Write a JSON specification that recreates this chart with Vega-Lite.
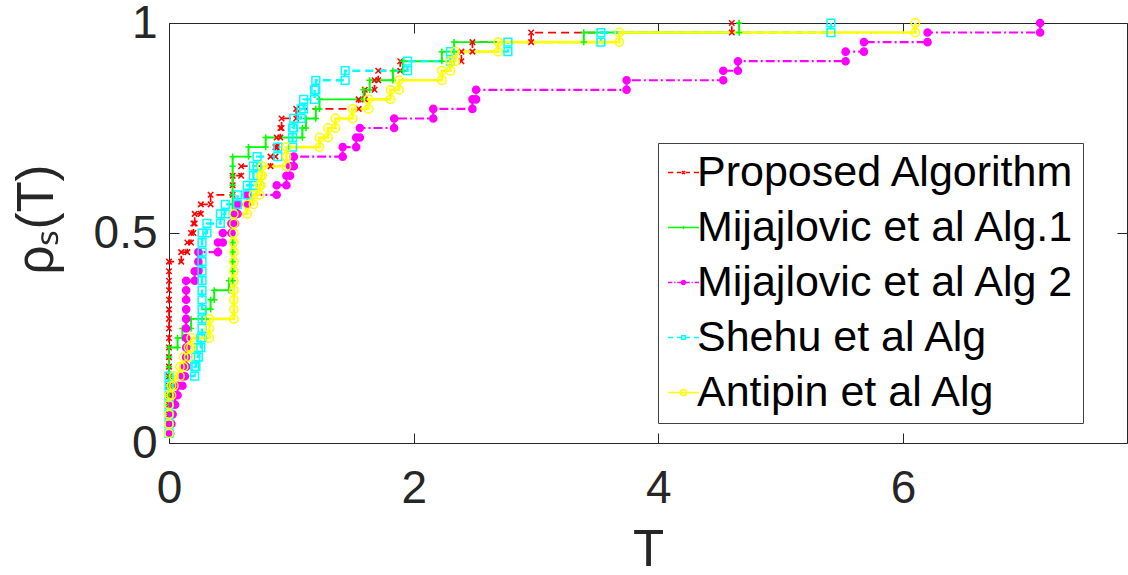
{
"$schema":"https://vega.github.io/schema/vega-lite/v6.json",
"width":958,"height":420,
"autosize":{"type":"none"},
"padding":{"left":169,"top":23,"right":1,"bottom":132},
"background":"white",
"config":{
 "view":{"stroke":"#262626","strokeWidth":1},
 "font":"Liberation Sans",
 "axis":{"grid":false,"domain":false,"tickColor":"#262626","tickWidth":1,"labelColor":"#262626","labelFont":"Liberation Sans","labelFontSize":46,"titleFont":"Liberation Sans","titleFontSize":51,"titleColor":"#262626","titleFontWeight":"normal","labelFlush":false,"labelOverlap":false,"format":"~g"}
},
"data":{"values":[
{"s":"Proposed Algorithm","t":0,"p":0.0227},{"s":"Proposed Algorithm","t":0,"p":0.0455},{"s":"Proposed Algorithm","t":0,"p":0.0682},{"s":"Proposed Algorithm","t":0,"p":0.0909},{"s":"Proposed Algorithm","t":0,"p":0.1136},{"s":"Proposed Algorithm","t":0,"p":0.1364},{"s":"Proposed Algorithm","t":0,"p":0.1591},{"s":"Proposed Algorithm","t":0,"p":0.1818},{"s":"Proposed Algorithm","t":0,"p":0.2045},{"s":"Proposed Algorithm","t":0,"p":0.2273},{"s":"Proposed Algorithm","t":0,"p":0.25},{"s":"Proposed Algorithm","t":0,"p":0.2727},{"s":"Proposed Algorithm","t":0,"p":0.2955},{"s":"Proposed Algorithm","t":0,"p":0.3182},{"s":"Proposed Algorithm","t":0,"p":0.3409},{"s":"Proposed Algorithm","t":0,"p":0.3636},{"s":"Proposed Algorithm","t":0,"p":0.3864},{"s":"Proposed Algorithm","t":0,"p":0.4091},{"s":"Proposed Algorithm","t":0,"p":0.4318},
{"s":"Proposed Algorithm","t":0.10,"p":0.4318},{"s":"Proposed Algorithm","t":0.10,"p":0.4545},
{"s":"Proposed Algorithm","t":0.15,"p":0.4545},{"s":"Proposed Algorithm","t":0.15,"p":0.4773},
{"s":"Proposed Algorithm","t":0.18,"p":0.4773},{"s":"Proposed Algorithm","t":0.18,"p":0.5},
{"s":"Proposed Algorithm","t":0.20,"p":0.5},{"s":"Proposed Algorithm","t":0.20,"p":0.5227},
{"s":"Proposed Algorithm","t":0.21,"p":0.5227},{"s":"Proposed Algorithm","t":0.21,"p":0.5455},
{"s":"Proposed Algorithm","t":0.26,"p":0.5455},{"s":"Proposed Algorithm","t":0.26,"p":0.5682},
{"s":"Proposed Algorithm","t":0.34,"p":0.5682},{"s":"Proposed Algorithm","t":0.34,"p":0.5909},
{"s":"Proposed Algorithm","t":0.52,"p":0.5909},{"s":"Proposed Algorithm","t":0.52,"p":0.6136},{"s":"Proposed Algorithm","t":0.52,"p":0.6364},
{"s":"Proposed Algorithm","t":0.59,"p":0.6364},{"s":"Proposed Algorithm","t":0.59,"p":0.6591},
{"s":"Proposed Algorithm","t":0.83,"p":0.6591},{"s":"Proposed Algorithm","t":0.83,"p":0.6818},
{"s":"Proposed Algorithm","t":0.87,"p":0.6818},{"s":"Proposed Algorithm","t":0.87,"p":0.7045},
{"s":"Proposed Algorithm","t":0.88,"p":0.7045},{"s":"Proposed Algorithm","t":0.88,"p":0.7273},
{"s":"Proposed Algorithm","t":0.91,"p":0.7273},{"s":"Proposed Algorithm","t":0.91,"p":0.75},
{"s":"Proposed Algorithm","t":0.92,"p":0.75},{"s":"Proposed Algorithm","t":0.92,"p":0.7727},
{"s":"Proposed Algorithm","t":1.04,"p":0.7727},{"s":"Proposed Algorithm","t":1.04,"p":0.7955},
{"s":"Proposed Algorithm","t":1.55,"p":0.7955},{"s":"Proposed Algorithm","t":1.55,"p":0.8182},
{"s":"Proposed Algorithm","t":1.60,"p":0.8182},{"s":"Proposed Algorithm","t":1.60,"p":0.8409},
{"s":"Proposed Algorithm","t":1.68,"p":0.8409},{"s":"Proposed Algorithm","t":1.68,"p":0.8636},
{"s":"Proposed Algorithm","t":1.71,"p":0.8636},{"s":"Proposed Algorithm","t":1.71,"p":0.8864},
{"s":"Proposed Algorithm","t":1.89,"p":0.8864},{"s":"Proposed Algorithm","t":1.89,"p":0.9091},
{"s":"Proposed Algorithm","t":2.39,"p":0.9091},{"s":"Proposed Algorithm","t":2.39,"p":0.9318},
{"s":"Proposed Algorithm","t":2.48,"p":0.9318},{"s":"Proposed Algorithm","t":2.48,"p":0.9545},
{"s":"Proposed Algorithm","t":2.96,"p":0.9545},{"s":"Proposed Algorithm","t":2.96,"p":0.9773},
{"s":"Proposed Algorithm","t":4.60,"p":0.9773},{"s":"Proposed Algorithm","t":4.60,"p":1},

{"s":"Mijajlovic et al Alg.1","t":0,"p":0.0227},{"s":"Mijajlovic et al Alg.1","t":0,"p":0.0455},{"s":"Mijajlovic et al Alg.1","t":0,"p":0.0682},{"s":"Mijajlovic et al Alg.1","t":0,"p":0.0909},{"s":"Mijajlovic et al Alg.1","t":0,"p":0.1136},{"s":"Mijajlovic et al Alg.1","t":0,"p":0.1364},{"s":"Mijajlovic et al Alg.1","t":0,"p":0.1591},{"s":"Mijajlovic et al Alg.1","t":0,"p":0.1818},{"s":"Mijajlovic et al Alg.1","t":0,"p":0.2045},{"s":"Mijajlovic et al Alg.1","t":0,"p":0.2273},
{"s":"Mijajlovic et al Alg.1","t":0.07,"p":0.2273},{"s":"Mijajlovic et al Alg.1","t":0.07,"p":0.25},
{"s":"Mijajlovic et al Alg.1","t":0.11,"p":0.25},{"s":"Mijajlovic et al Alg.1","t":0.11,"p":0.2727},
{"s":"Mijajlovic et al Alg.1","t":0.18,"p":0.2727},{"s":"Mijajlovic et al Alg.1","t":0.18,"p":0.2955},
{"s":"Mijajlovic et al Alg.1","t":0.30,"p":0.2955},{"s":"Mijajlovic et al Alg.1","t":0.30,"p":0.3182},
{"s":"Mijajlovic et al Alg.1","t":0.34,"p":0.3182},{"s":"Mijajlovic et al Alg.1","t":0.34,"p":0.3409},
{"s":"Mijajlovic et al Alg.1","t":0.37,"p":0.3409},{"s":"Mijajlovic et al Alg.1","t":0.37,"p":0.3636},
{"s":"Mijajlovic et al Alg.1","t":0.49,"p":0.3636},{"s":"Mijajlovic et al Alg.1","t":0.49,"p":0.3864},
{"s":"Mijajlovic et al Alg.1","t":0.52,"p":0.3864},{"s":"Mijajlovic et al Alg.1","t":0.52,"p":0.4091},{"s":"Mijajlovic et al Alg.1","t":0.52,"p":0.4318},{"s":"Mijajlovic et al Alg.1","t":0.52,"p":0.4545},{"s":"Mijajlovic et al Alg.1","t":0.52,"p":0.4773},{"s":"Mijajlovic et al Alg.1","t":0.52,"p":0.5},{"s":"Mijajlovic et al Alg.1","t":0.52,"p":0.5227},{"s":"Mijajlovic et al Alg.1","t":0.52,"p":0.5455},{"s":"Mijajlovic et al Alg.1","t":0.52,"p":0.5682},{"s":"Mijajlovic et al Alg.1","t":0.52,"p":0.5909},{"s":"Mijajlovic et al Alg.1","t":0.52,"p":0.6136},{"s":"Mijajlovic et al Alg.1","t":0.52,"p":0.6364},{"s":"Mijajlovic et al Alg.1","t":0.52,"p":0.6591},{"s":"Mijajlovic et al Alg.1","t":0.52,"p":0.6818},
{"s":"Mijajlovic et al Alg.1","t":0.65,"p":0.6818},{"s":"Mijajlovic et al Alg.1","t":0.65,"p":0.7045},
{"s":"Mijajlovic et al Alg.1","t":0.79,"p":0.7045},{"s":"Mijajlovic et al Alg.1","t":0.79,"p":0.7273},
{"s":"Mijajlovic et al Alg.1","t":1.09,"p":0.7273},{"s":"Mijajlovic et al Alg.1","t":1.09,"p":0.75},
{"s":"Mijajlovic et al Alg.1","t":1.12,"p":0.75},{"s":"Mijajlovic et al Alg.1","t":1.12,"p":0.7727},
{"s":"Mijajlovic et al Alg.1","t":1.20,"p":0.7727},{"s":"Mijajlovic et al Alg.1","t":1.20,"p":0.7955},
{"s":"Mijajlovic et al Alg.1","t":1.23,"p":0.7955},{"s":"Mijajlovic et al Alg.1","t":1.23,"p":0.8182},
{"s":"Mijajlovic et al Alg.1","t":1.59,"p":0.8182},{"s":"Mijajlovic et al Alg.1","t":1.59,"p":0.8409},
{"s":"Mijajlovic et al Alg.1","t":1.64,"p":0.8409},{"s":"Mijajlovic et al Alg.1","t":1.64,"p":0.8636},
{"s":"Mijajlovic et al Alg.1","t":1.83,"p":0.8636},{"s":"Mijajlovic et al Alg.1","t":1.83,"p":0.8864},
{"s":"Mijajlovic et al Alg.1","t":1.91,"p":0.8864},{"s":"Mijajlovic et al Alg.1","t":1.91,"p":0.9091},
{"s":"Mijajlovic et al Alg.1","t":2.23,"p":0.9091},{"s":"Mijajlovic et al Alg.1","t":2.23,"p":0.9318},
{"s":"Mijajlovic et al Alg.1","t":2.33,"p":0.9318},{"s":"Mijajlovic et al Alg.1","t":2.33,"p":0.9545},
{"s":"Mijajlovic et al Alg.1","t":3.39,"p":0.9545},{"s":"Mijajlovic et al Alg.1","t":3.39,"p":0.9773},
{"s":"Mijajlovic et al Alg.1","t":4.66,"p":0.9773},{"s":"Mijajlovic et al Alg.1","t":4.66,"p":1},

{"s":"Mijajlovic et al Alg 2","t":0,"p":0.0227},
{"s":"Mijajlovic et al Alg 2","t":0.01,"p":0.0227},{"s":"Mijajlovic et al Alg 2","t":0.01,"p":0.0455},
{"s":"Mijajlovic et al Alg 2","t":0.02,"p":0.0455},{"s":"Mijajlovic et al Alg 2","t":0.02,"p":0.0682},
{"s":"Mijajlovic et al Alg 2","t":0.03,"p":0.0682},{"s":"Mijajlovic et al Alg 2","t":0.03,"p":0.0909},
{"s":"Mijajlovic et al Alg 2","t":0.05,"p":0.0909},{"s":"Mijajlovic et al Alg 2","t":0.05,"p":0.1136},
{"s":"Mijajlovic et al Alg 2","t":0.07,"p":0.1136},{"s":"Mijajlovic et al Alg 2","t":0.07,"p":0.1364},
{"s":"Mijajlovic et al Alg 2","t":0.11,"p":0.1364},{"s":"Mijajlovic et al Alg 2","t":0.11,"p":0.1591},
{"s":"Mijajlovic et al Alg 2","t":0.13,"p":0.1591},{"s":"Mijajlovic et al Alg 2","t":0.13,"p":0.1818},
{"s":"Mijajlovic et al Alg 2","t":0.14,"p":0.1818},{"s":"Mijajlovic et al Alg 2","t":0.14,"p":0.2045},{"s":"Mijajlovic et al Alg 2","t":0.14,"p":0.2273},{"s":"Mijajlovic et al Alg 2","t":0.14,"p":0.25},{"s":"Mijajlovic et al Alg 2","t":0.14,"p":0.2727},{"s":"Mijajlovic et al Alg 2","t":0.14,"p":0.2955},{"s":"Mijajlovic et al Alg 2","t":0.14,"p":0.3182},{"s":"Mijajlovic et al Alg 2","t":0.14,"p":0.3409},{"s":"Mijajlovic et al Alg 2","t":0.14,"p":0.3636},{"s":"Mijajlovic et al Alg 2","t":0.14,"p":0.3864},
{"s":"Mijajlovic et al Alg 2","t":0.21,"p":0.3864},{"s":"Mijajlovic et al Alg 2","t":0.21,"p":0.4091},
{"s":"Mijajlovic et al Alg 2","t":0.24,"p":0.4091},{"s":"Mijajlovic et al Alg 2","t":0.24,"p":0.4318},{"s":"Mijajlovic et al Alg 2","t":0.24,"p":0.4545},
{"s":"Mijajlovic et al Alg 2","t":0.40,"p":0.4545},{"s":"Mijajlovic et al Alg 2","t":0.40,"p":0.4773},
{"s":"Mijajlovic et al Alg 2","t":0.44,"p":0.4773},{"s":"Mijajlovic et al Alg 2","t":0.44,"p":0.5},
{"s":"Mijajlovic et al Alg 2","t":0.51,"p":0.5},{"s":"Mijajlovic et al Alg 2","t":0.51,"p":0.5227},
{"s":"Mijajlovic et al Alg 2","t":0.54,"p":0.5227},{"s":"Mijajlovic et al Alg 2","t":0.54,"p":0.5455},
{"s":"Mijajlovic et al Alg 2","t":0.56,"p":0.5455},{"s":"Mijajlovic et al Alg 2","t":0.56,"p":0.5682},
{"s":"Mijajlovic et al Alg 2","t":0.64,"p":0.5682},{"s":"Mijajlovic et al Alg 2","t":0.64,"p":0.5909},
{"s":"Mijajlovic et al Alg 2","t":0.88,"p":0.5909},{"s":"Mijajlovic et al Alg 2","t":0.88,"p":0.6136},
{"s":"Mijajlovic et al Alg 2","t":0.96,"p":0.6136},{"s":"Mijajlovic et al Alg 2","t":0.96,"p":0.6364},
{"s":"Mijajlovic et al Alg 2","t":0.99,"p":0.6364},{"s":"Mijajlovic et al Alg 2","t":0.99,"p":0.6591},
{"s":"Mijajlovic et al Alg 2","t":1.02,"p":0.6591},{"s":"Mijajlovic et al Alg 2","t":1.02,"p":0.6818},
{"s":"Mijajlovic et al Alg 2","t":1.42,"p":0.6818},{"s":"Mijajlovic et al Alg 2","t":1.42,"p":0.7045},
{"s":"Mijajlovic et al Alg 2","t":1.53,"p":0.7045},{"s":"Mijajlovic et al Alg 2","t":1.53,"p":0.7273},
{"s":"Mijajlovic et al Alg 2","t":1.56,"p":0.7273},{"s":"Mijajlovic et al Alg 2","t":1.56,"p":0.75},
{"s":"Mijajlovic et al Alg 2","t":1.84,"p":0.75},{"s":"Mijajlovic et al Alg 2","t":1.84,"p":0.7727},
{"s":"Mijajlovic et al Alg 2","t":2.16,"p":0.7727},{"s":"Mijajlovic et al Alg 2","t":2.16,"p":0.7955},
{"s":"Mijajlovic et al Alg 2","t":2.48,"p":0.7955},{"s":"Mijajlovic et al Alg 2","t":2.48,"p":0.8182},
{"s":"Mijajlovic et al Alg 2","t":2.51,"p":0.8182},{"s":"Mijajlovic et al Alg 2","t":2.51,"p":0.8409},
{"s":"Mijajlovic et al Alg 2","t":3.74,"p":0.8409},{"s":"Mijajlovic et al Alg 2","t":3.74,"p":0.8636},
{"s":"Mijajlovic et al Alg 2","t":4.53,"p":0.8636},{"s":"Mijajlovic et al Alg 2","t":4.53,"p":0.8864},
{"s":"Mijajlovic et al Alg 2","t":4.65,"p":0.8864},{"s":"Mijajlovic et al Alg 2","t":4.65,"p":0.9091},
{"s":"Mijajlovic et al Alg 2","t":5.53,"p":0.9091},{"s":"Mijajlovic et al Alg 2","t":5.53,"p":0.9318},
{"s":"Mijajlovic et al Alg 2","t":5.68,"p":0.9318},{"s":"Mijajlovic et al Alg 2","t":5.68,"p":0.9545},
{"s":"Mijajlovic et al Alg 2","t":6.20,"p":0.9545},{"s":"Mijajlovic et al Alg 2","t":6.20,"p":0.9773},
{"s":"Mijajlovic et al Alg 2","t":7.12,"p":0.9773},{"s":"Mijajlovic et al Alg 2","t":7.12,"p":1},

{"s":"Shehu et al Alg","t":0,"p":0.0227},{"s":"Shehu et al Alg","t":0,"p":0.0455},{"s":"Shehu et al Alg","t":0,"p":0.0682},{"s":"Shehu et al Alg","t":0,"p":0.0909},{"s":"Shehu et al Alg","t":0,"p":0.1136},{"s":"Shehu et al Alg","t":0,"p":0.1364},{"s":"Shehu et al Alg","t":0,"p":0.1591},
{"s":"Shehu et al Alg","t":0.21,"p":0.1591},{"s":"Shehu et al Alg","t":0.21,"p":0.1818},
{"s":"Shehu et al Alg","t":0.22,"p":0.1818},{"s":"Shehu et al Alg","t":0.22,"p":0.2045},
{"s":"Shehu et al Alg","t":0.24,"p":0.2045},{"s":"Shehu et al Alg","t":0.24,"p":0.2273},
{"s":"Shehu et al Alg","t":0.26,"p":0.2273},{"s":"Shehu et al Alg","t":0.26,"p":0.25},
{"s":"Shehu et al Alg","t":0.27,"p":0.25},{"s":"Shehu et al Alg","t":0.27,"p":0.2727},{"s":"Shehu et al Alg","t":0.27,"p":0.2955},{"s":"Shehu et al Alg","t":0.27,"p":0.3182},{"s":"Shehu et al Alg","t":0.27,"p":0.3409},{"s":"Shehu et al Alg","t":0.27,"p":0.3636},{"s":"Shehu et al Alg","t":0.27,"p":0.3864},{"s":"Shehu et al Alg","t":0.27,"p":0.4091},{"s":"Shehu et al Alg","t":0.27,"p":0.4318},{"s":"Shehu et al Alg","t":0.27,"p":0.4545},{"s":"Shehu et al Alg","t":0.27,"p":0.4773},{"s":"Shehu et al Alg","t":0.27,"p":0.5},
{"s":"Shehu et al Alg","t":0.31,"p":0.5},{"s":"Shehu et al Alg","t":0.31,"p":0.5227},
{"s":"Shehu et al Alg","t":0.42,"p":0.5227},{"s":"Shehu et al Alg","t":0.42,"p":0.5455},
{"s":"Shehu et al Alg","t":0.46,"p":0.5455},{"s":"Shehu et al Alg","t":0.46,"p":0.5682},
{"s":"Shehu et al Alg","t":0.56,"p":0.5682},{"s":"Shehu et al Alg","t":0.56,"p":0.5909},
{"s":"Shehu et al Alg","t":0.64,"p":0.5909},{"s":"Shehu et al Alg","t":0.64,"p":0.6136},
{"s":"Shehu et al Alg","t":0.69,"p":0.6136},{"s":"Shehu et al Alg","t":0.69,"p":0.6364},{"s":"Shehu et al Alg","t":0.69,"p":0.6591},
{"s":"Shehu et al Alg","t":0.72,"p":0.6591},{"s":"Shehu et al Alg","t":0.72,"p":0.6818},
{"s":"Shehu et al Alg","t":0.89,"p":0.6818},{"s":"Shehu et al Alg","t":0.89,"p":0.7045},
{"s":"Shehu et al Alg","t":1.01,"p":0.7045},{"s":"Shehu et al Alg","t":1.01,"p":0.7273},{"s":"Shehu et al Alg","t":1.01,"p":0.75},
{"s":"Shehu et al Alg","t":1.02,"p":0.75},{"s":"Shehu et al Alg","t":1.02,"p":0.7727},
{"s":"Shehu et al Alg","t":1.08,"p":0.7727},{"s":"Shehu et al Alg","t":1.08,"p":0.7955},
{"s":"Shehu et al Alg","t":1.10,"p":0.7955},{"s":"Shehu et al Alg","t":1.10,"p":0.8182},
{"s":"Shehu et al Alg","t":1.19,"p":0.8182},{"s":"Shehu et al Alg","t":1.19,"p":0.8409},
{"s":"Shehu et al Alg","t":1.20,"p":0.8409},{"s":"Shehu et al Alg","t":1.20,"p":0.8636},
{"s":"Shehu et al Alg","t":1.44,"p":0.8636},{"s":"Shehu et al Alg","t":1.44,"p":0.8864},
{"s":"Shehu et al Alg","t":1.95,"p":0.8864},{"s":"Shehu et al Alg","t":1.95,"p":0.9091},
{"s":"Shehu et al Alg","t":2.30,"p":0.9091},{"s":"Shehu et al Alg","t":2.30,"p":0.9318},
{"s":"Shehu et al Alg","t":2.77,"p":0.9318},{"s":"Shehu et al Alg","t":2.77,"p":0.9545},
{"s":"Shehu et al Alg","t":3.53,"p":0.9545},{"s":"Shehu et al Alg","t":3.53,"p":0.9773},
{"s":"Shehu et al Alg","t":5.41,"p":0.9773},{"s":"Shehu et al Alg","t":5.41,"p":1},

{"s":"Antipin et al Alg","t":0,"p":0.0227},{"s":"Antipin et al Alg","t":0,"p":0.0455},{"s":"Antipin et al Alg","t":0,"p":0.0682},{"s":"Antipin et al Alg","t":0,"p":0.0909},{"s":"Antipin et al Alg","t":0,"p":0.1136},
{"s":"Antipin et al Alg","t":0.02,"p":0.1136},{"s":"Antipin et al Alg","t":0.02,"p":0.1364},
{"s":"Antipin et al Alg","t":0.04,"p":0.1364},{"s":"Antipin et al Alg","t":0.04,"p":0.1591},
{"s":"Antipin et al Alg","t":0.09,"p":0.1591},{"s":"Antipin et al Alg","t":0.09,"p":0.1818},
{"s":"Antipin et al Alg","t":0.12,"p":0.1818},{"s":"Antipin et al Alg","t":0.12,"p":0.2045},
{"s":"Antipin et al Alg","t":0.16,"p":0.2045},{"s":"Antipin et al Alg","t":0.16,"p":0.2273},
{"s":"Antipin et al Alg","t":0.18,"p":0.2273},{"s":"Antipin et al Alg","t":0.18,"p":0.25},
{"s":"Antipin et al Alg","t":0.33,"p":0.25},{"s":"Antipin et al Alg","t":0.33,"p":0.2727},{"s":"Antipin et al Alg","t":0.33,"p":0.2955},
{"s":"Antipin et al Alg","t":0.53,"p":0.2955},{"s":"Antipin et al Alg","t":0.53,"p":0.3182},{"s":"Antipin et al Alg","t":0.53,"p":0.3409},{"s":"Antipin et al Alg","t":0.53,"p":0.3636},{"s":"Antipin et al Alg","t":0.53,"p":0.3864},{"s":"Antipin et al Alg","t":0.53,"p":0.4091},{"s":"Antipin et al Alg","t":0.53,"p":0.4318},{"s":"Antipin et al Alg","t":0.53,"p":0.4545},{"s":"Antipin et al Alg","t":0.53,"p":0.4773},{"s":"Antipin et al Alg","t":0.53,"p":0.5},{"s":"Antipin et al Alg","t":0.53,"p":0.5227},{"s":"Antipin et al Alg","t":0.53,"p":0.5455},
{"s":"Antipin et al Alg","t":0.64,"p":0.5455},{"s":"Antipin et al Alg","t":0.64,"p":0.5682},
{"s":"Antipin et al Alg","t":0.69,"p":0.5682},{"s":"Antipin et al Alg","t":0.69,"p":0.5909},
{"s":"Antipin et al Alg","t":0.74,"p":0.5909},{"s":"Antipin et al Alg","t":0.74,"p":0.6136},
{"s":"Antipin et al Alg","t":0.75,"p":0.6136},{"s":"Antipin et al Alg","t":0.75,"p":0.6364},
{"s":"Antipin et al Alg","t":0.76,"p":0.6364},{"s":"Antipin et al Alg","t":0.76,"p":0.6591},
{"s":"Antipin et al Alg","t":0.96,"p":0.6591},{"s":"Antipin et al Alg","t":0.96,"p":0.6818},{"s":"Antipin et al Alg","t":0.96,"p":0.7045},
{"s":"Antipin et al Alg","t":1.23,"p":0.7045},{"s":"Antipin et al Alg","t":1.23,"p":0.7273},
{"s":"Antipin et al Alg","t":1.30,"p":0.7273},{"s":"Antipin et al Alg","t":1.30,"p":0.75},
{"s":"Antipin et al Alg","t":1.36,"p":0.75},{"s":"Antipin et al Alg","t":1.36,"p":0.7727},
{"s":"Antipin et al Alg","t":1.50,"p":0.7727},{"s":"Antipin et al Alg","t":1.50,"p":0.7955},
{"s":"Antipin et al Alg","t":1.63,"p":0.7955},{"s":"Antipin et al Alg","t":1.63,"p":0.8182},
{"s":"Antipin et al Alg","t":1.81,"p":0.8182},{"s":"Antipin et al Alg","t":1.81,"p":0.8409},
{"s":"Antipin et al Alg","t":1.88,"p":0.8409},{"s":"Antipin et al Alg","t":1.88,"p":0.8636},
{"s":"Antipin et al Alg","t":2.23,"p":0.8636},{"s":"Antipin et al Alg","t":2.23,"p":0.8864},
{"s":"Antipin et al Alg","t":2.30,"p":0.8864},{"s":"Antipin et al Alg","t":2.30,"p":0.9091},
{"s":"Antipin et al Alg","t":2.34,"p":0.9091},{"s":"Antipin et al Alg","t":2.34,"p":0.9318},
{"s":"Antipin et al Alg","t":2.69,"p":0.9318},{"s":"Antipin et al Alg","t":2.69,"p":0.9545},
{"s":"Antipin et al Alg","t":3.68,"p":0.9545},{"s":"Antipin et al Alg","t":3.68,"p":0.9773},
{"s":"Antipin et al Alg","t":6.10,"p":0.9773},{"s":"Antipin et al Alg","t":6.10,"p":1}
]},
"resolve":{"scale":{"color":"independent","shape":"independent","size":"independent","fill":"independent","strokeDash":"independent","strokeWidth":"independent"},"axis":{"x":"independent","y":"independent"}},
"layer":[
{"mark":{"type":"line","clip":false},
 "encoding":{
  "x":{"field":"t","type":"quantitative","scale":{"domain":[0,7.83],"nice":false,"zero":false},"axis":{"values":[0,2,4,6],"tickSize":-10,"labelPadding":33,"title":"T","titleX":479,"titleY":107,"titleAlign":"center","titleBaseline":"middle"}},
  "y":{"field":"p","type":"quantitative","scale":{"domain":[0,1],"nice":false,"zero":false},"axis":{"values":[0,0.5,1],"tickSize":-10,"labelPadding":22,"title":"ρₛ(T)","titleX":-117,"titleY":196,"titleAngle":-90,"titleAlign":"center","titleBaseline":"alphabetic"}},
  "color":{"field":"s","type":"nominal","scale":{"domain":["Proposed Algorithm","Mijajlovic et al Alg.1","Mijajlovic et al Alg 2","Shehu et al Alg","Antipin et al Alg"],"range":["#ff0000","#00ff00","#ff00ff","#00ffff","#ffff00"]},"legend":null},
  "strokeDash":{"field":"s","type":"nominal","scale":{"domain":["Proposed Algorithm","Mijajlovic et al Alg.1","Mijajlovic et al Alg 2","Shehu et al Alg","Antipin et al Alg"],"range":[[8,5],[1,0],[9,3,2,3],[8,5],[1,0]]},"legend":null},
  "strokeWidth":{"field":"s","type":"nominal","scale":{"domain":["Proposed Algorithm","Mijajlovic et al Alg.1","Mijajlovic et al Alg 2","Shehu et al Alg","Antipin et al Alg"],"range":[1.7,2.6,1.9,1.7,1.7]},"legend":null},
  "order":[{"field":"t","type":"quantitative"},{"field":"p","type":"quantitative"}]
 }},
{"mark":{"type":"point","filled":false,"strokeWidth":1.5,"opacity":1,"clip":false},
 "encoding":{
  "x":{"field":"t","type":"quantitative","scale":{"domain":[0,7.83],"nice":false,"zero":false},"axis":{"orient":"top","values":[0,2,4,6],"tickSize":-10,"labels":false,"title":null}},
  "y":{"field":"p","type":"quantitative","scale":{"domain":[0,1],"nice":false,"zero":false},"axis":{"orient":"right","values":[0,0.5,1],"tickSize":-10,"labels":false,"title":null}},
  "color":{"field":"s","type":"nominal","scale":{"domain":["Proposed Algorithm","Mijajlovic et al Alg.1","Mijajlovic et al Alg 2","Shehu et al Alg","Antipin et al Alg"],"range":["#ff0000","#00ff00","#ff00ff","#00ffff","#ffff00"]},"legend":null},
  "shape":{"field":"s","type":"nominal","scale":{"domain":["Proposed Algorithm","Mijajlovic et al Alg.1","Mijajlovic et al Alg 2","Shehu et al Alg","Antipin et al Alg"],"range":["M-1,-1L1,1M-1,1L1,-1","M-1,0H1M0,-1V1","circle","square","circle"]},"legend":null},
  "size":{"field":"s","type":"nominal","scale":{"domain":["Proposed Algorithm","Mijajlovic et al Alg.1","Mijajlovic et al Alg 2","Shehu et al Alg","Antipin et al Alg"],"range":[30,70,36,36,100]},"legend":null},
  "fill":{"field":"s","type":"nominal","scale":{"domain":["Proposed Algorithm","Mijajlovic et al Alg.1","Mijajlovic et al Alg 2","Shehu et al Alg","Antipin et al Alg"],"range":["transparent","transparent","#ff00ff","transparent","transparent"]},"legend":null}
 }},
{"mark":{"type":"point","filled":false,"opacity":0},
 "encoding":{
  "x":{"field":"t","type":"quantitative","scale":{"domain":[0,7.83],"nice":false,"zero":false},"axis":null},
  "y":{"field":"p","type":"quantitative","scale":{"domain":[0,1],"nice":false,"zero":false},"axis":null},
  "shape":{"field":"s","type":"nominal","scale":{"domain":["Proposed Algorithm","Mijajlovic et al Alg.1","Mijajlovic et al Alg 2","Shehu et al Alg","Antipin et al Alg"],"range":[
   "M-1,0H-0.66M-0.42,0H-0.14M0.14,0H0.42M0.66,0H1M-0.1,-0.1L0.1,0.1M-0.1,0.1L0.1,-0.1",
   "M-1,0H1M0,-0.12V0.12",
   "M-1,0H-0.72M-0.6,0H-0.52M-0.4,0H0.4M0.52,0H0.6M0.72,0H1M0.13,0A0.13,0.13 0 1,1 -0.13,0A0.13,0.13 0 1,1 0.13,0M0.06,0A0.06,0.06 0 1,1 -0.06,0A0.06,0.06 0 1,1 0.06,0",
   "M-1,0H-0.66M-0.42,0H-0.14M0.14,0H0.42M0.66,0H1M-0.12,-0.12H0.12V0.12H-0.12Z",
   "M-1,0H1M0.2,0A0.2,0.2 0 1,1 -0.2,0A0.2,0.2 0 1,1 0.2,0"]},
   "legend":{"title":null,"orient":"none","legendX":489,"legendY":120,"padding":8,"strokeColor":"#404040","fillColor":"white","labelFont":"Liberation Sans","labelFontSize":43,"labelColor":"black","labelLimit":600,"symbolSize":961,"symbolStrokeWidth":1.5,"rowPadding":11,"labelOffset":-8,"symbolOffset":-4,"symbolOpacity":1}},
  "color":{"field":"s","type":"nominal","scale":{"domain":["Proposed Algorithm","Mijajlovic et al Alg.1","Mijajlovic et al Alg 2","Shehu et al Alg","Antipin et al Alg"],"range":["#ff0000","#00ff00","#ff00ff","#00ffff","#ffff00"]},
   "legend":{"title":null,"orient":"none","legendX":489,"legendY":120,"padding":8,"strokeColor":"#404040","fillColor":"white","labelFont":"Liberation Sans","labelFontSize":43,"labelColor":"black","labelLimit":600,"symbolSize":961,"symbolStrokeWidth":1.5,"rowPadding":11,"labelOffset":-8,"symbolOffset":-4,"symbolOpacity":1}}
 }}
]
}
